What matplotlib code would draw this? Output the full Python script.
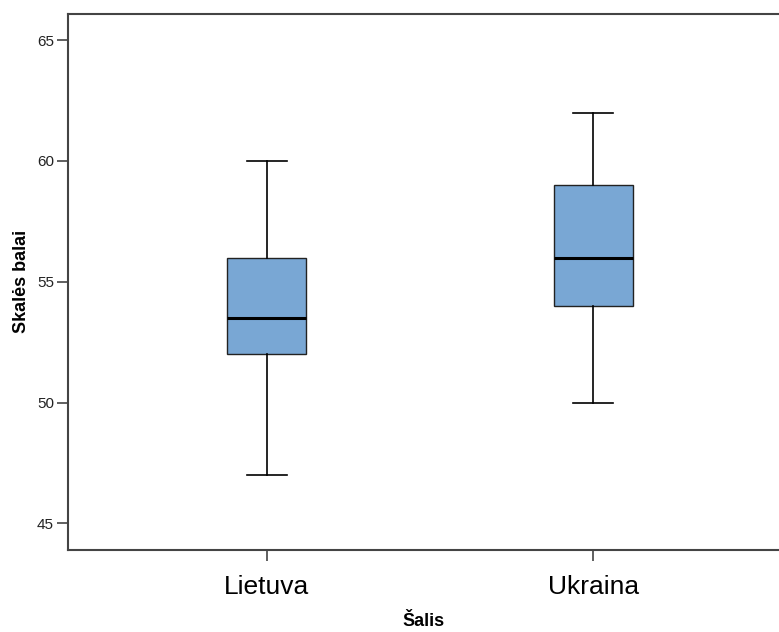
import matplotlib.pyplot as plt

# Duomenys (nuskaityti iš paveikslo)
salys = ['Lietuva', 'Ukraina']
minimumai = [47, 50]
q1 = [52, 54]
medianos = [53.5, 56]
q3 = [56, 59]
maksimumai = [60, 62]
y_ticks = [45, 50, 55, 60, 65]

plt.rcParams['font.family'] = ['Liberation Sans', 'DejaVu Sans']

fig = plt.figure(figsize=(7.79, 6.32), dpi=100)
ax = fig.add_axes([68 / 779, 1 - 550 / 632, 1 - 68 / 779, (550 - 13.5) / 632])

stats = []
for i, name in enumerate(salys):
    stats.append({
        'label': name,
        'whislo': minimumai[i],
        'q1': q1[i],
        'med': medianos[i],
        'q3': q3[i],
        'whishi': maksimumai[i],
        'fliers': [],
    })

ax.bxp(stats, positions=[1, 2], widths=0.242, patch_artist=True,
       boxprops=dict(facecolor='#79a7d4', edgecolor='#222222', linewidth=1.0),
       medianprops=dict(color='black', linewidth=2.2),
       whiskerprops=dict(color='black', linewidth=1.2),
       capprops=dict(color='black', linewidth=1.2),
       capwidths=0.125, showfliers=False)

ax.set_xlim(0.39, 2.57)
ax.set_ylim(43.90, 66.10)
ax.set_yticks(y_ticks)
ax.set_yticklabels([str(v) for v in y_ticks], fontsize=11, color='#222222')
ax.set_xticks([1, 2])
ax.set_xticklabels(salys, fontsize=19, color='black')

ax.tick_params(axis='y', direction='out', length=8, width=1.2, color='#444444', pad=2)
ax.tick_params(axis='x', direction='out', length=8, width=1.2, color='#444444', pad=10)

for side in ['left', 'top', 'bottom']:
    ax.spines[side].set_color('#444444')
    ax.spines[side].set_linewidth(1.5)
ax.spines['right'].set_visible(False)

ax.set_ylabel('Skalės balai', fontsize=13, fontweight='bold', labelpad=5)
ax.set_xlabel('Šalis', fontsize=13, fontweight='bold', labelpad=10)

fig.savefig('out.png', dpi=100)
